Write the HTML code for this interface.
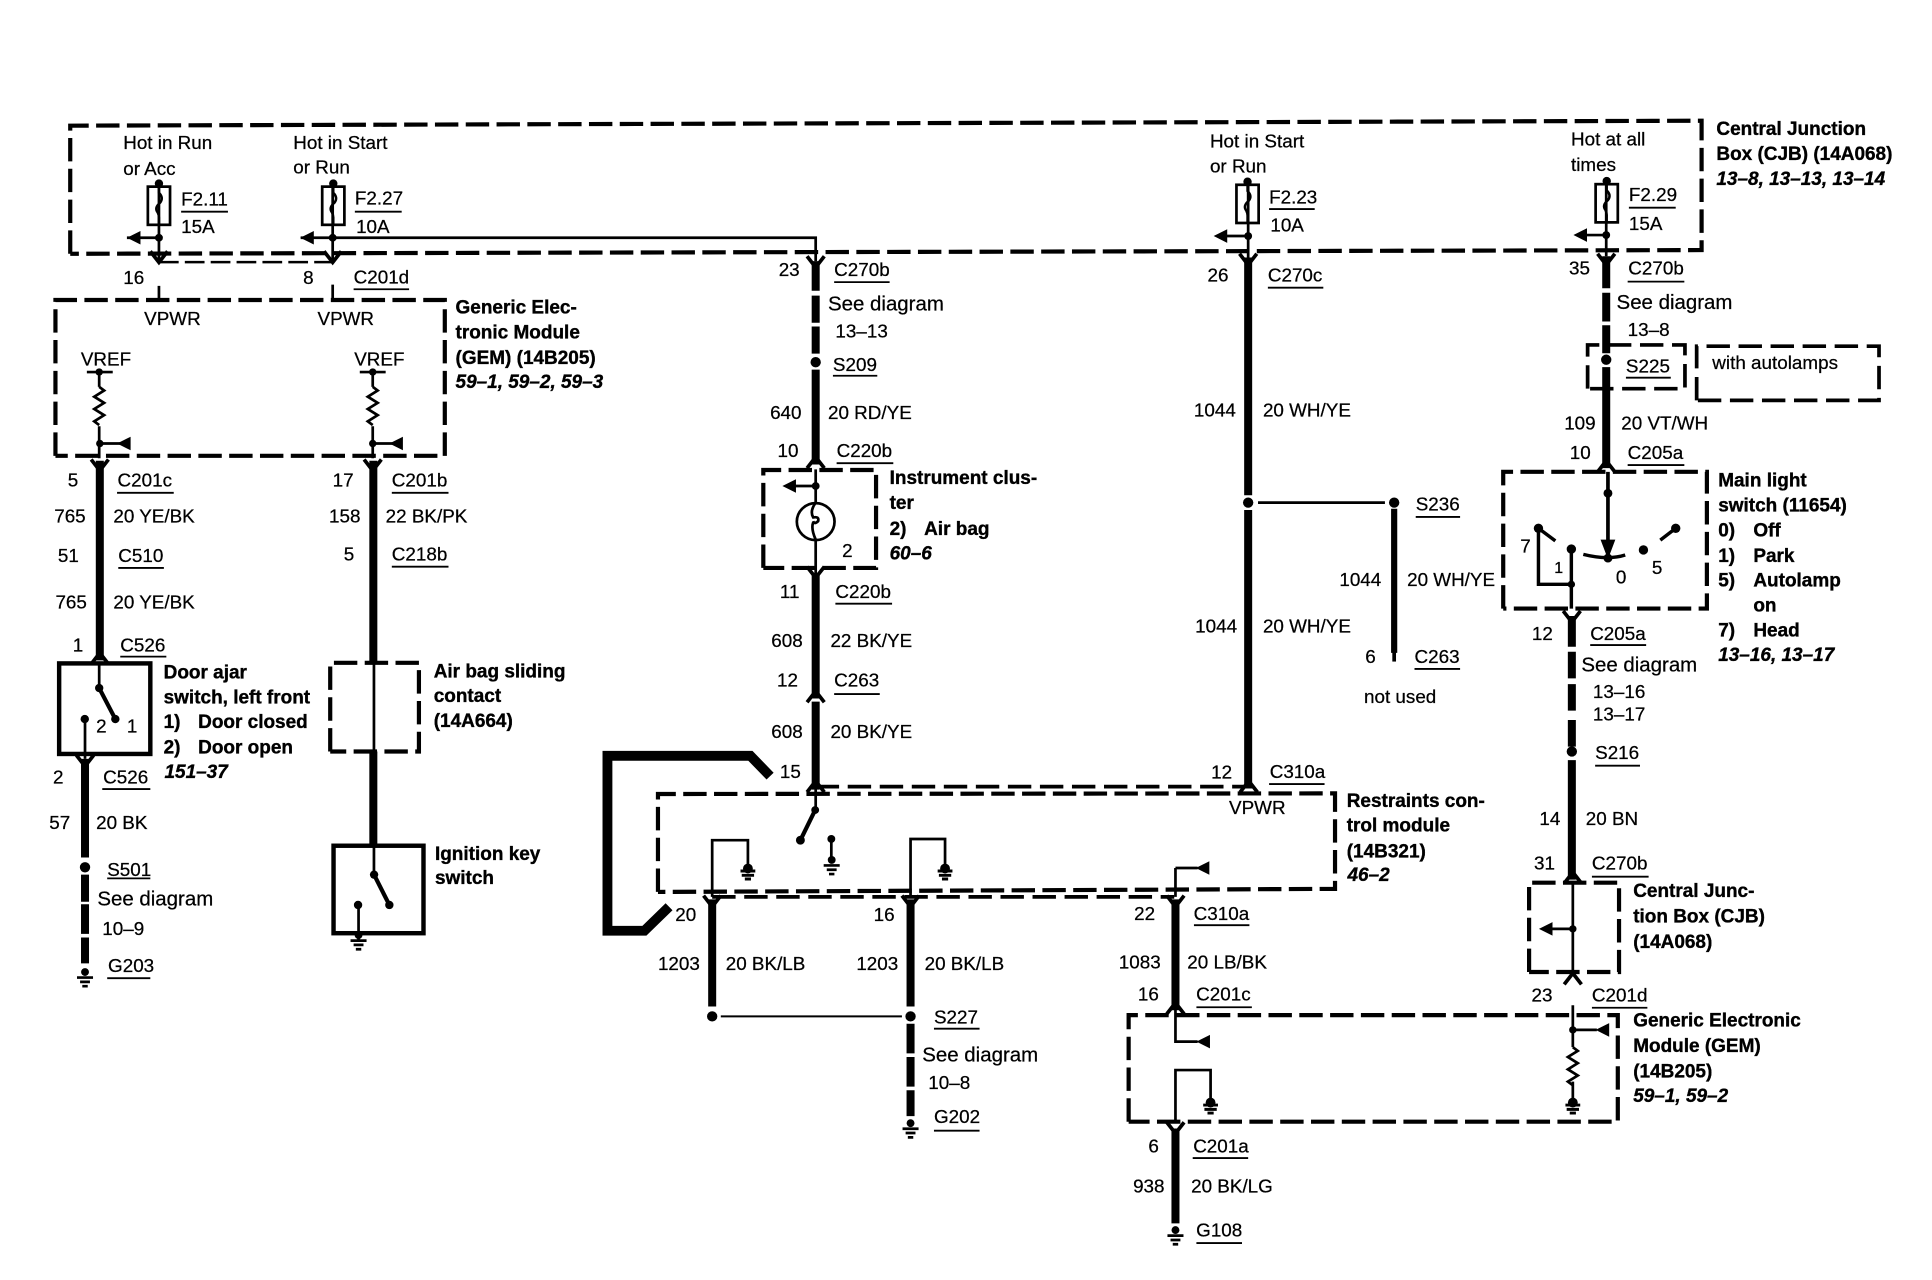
<!DOCTYPE html>
<html lang="en">
<head>
<meta charset="utf-8">
<title>Wiring diagram</title>
<style>
html,body{margin:0;padding:0;background:#fff;width:1932px;height:1280px;overflow:hidden}
svg{display:block}
text{font-family:"Liberation Sans",sans-serif;font-size:15.3px;fill:#000;stroke:#000;stroke-width:.2}
.b{font-weight:bold;font-size:15.4px;stroke-width:.3}
.i{font-weight:bold;font-style:italic;font-size:15.4px;stroke-width:.3}
.sd{font-size:16.6px}
.box{fill:none;stroke:#000;stroke-width:3.4;stroke-dasharray:19 6}
.box2{fill:none;stroke:#000;stroke-width:3;stroke-dasharray:19 7}
.th{fill:none;stroke:#000;stroke-width:6.5}
.tn{fill:none;stroke:#000;stroke-width:2.2}
.ul{fill:none;stroke:#000;stroke-width:1.5}
.sw{fill:none;stroke:#000;stroke-width:3.6}
</style>
</head>
<body>
<svg xmlns="http://www.w3.org/2000/svg" width="1932" height="1280" viewBox="0 0 1568 1039" preserveAspectRatio="none">
<defs>
<path id="dn" d="M-7,-6 L0,3 L7,-6" fill="none" stroke="#000" stroke-width="3"/>
<path id="up" d="M-7,6 L0,-3 L7,6" fill="none" stroke="#000" stroke-width="3"/>
<g id="gnd"><circle cx="0" cy="0" r="3.2"/><path d="M-6.5,4.5H6.5M-4,8H4M-2.2,11.5H2.2" stroke="#000" stroke-width="2.2" fill="none"/></g>
<g id="gnd2"><circle cx="0" cy="0" r="4"/><path d="M-6,2H6M-5,5.5H5M-2.5,8.5H2.5" stroke="#000" stroke-width="2.4" fill="none"/></g>
<path id="res" d="M0,0 l4,3 l-8,5 l8,5 l-8,5 l8,5 l-8,5 l4,3" fill="none" stroke="#000" stroke-width="2.2"/>
<path id="la" d="M0,0 L11,-5.5 V5.5Z"/>
<g id="fuse"><rect x="-9" y="0" width="18" height="31" fill="none" stroke="#000" stroke-width="2.2"/><path d="M0,-3 V5 q4,4 1,8 q-5,4 -2,8 q1,2 1,4 V31" fill="none" stroke="#000" stroke-width="2"/><circle cx="0" cy="-2.5" r="3.4"/></g>
</defs>

<!-- dashed module boxes -->
<path class="box" d="M57,206 V102 L1381,98 V203 L57,206"/>
<path class="box" d="M45,370 V243.5 H361 V370 H45"/>
<path class="box" d="M268,610 V538 H340 V610 H268"/>
<path class="box" d="M619.5,461 V381.5 H711 V461 H619.5"/>
<path class="box" d="M534,724 V644.5 L1083.5,644 V721.5 L534,724"/>
<path class="box" d="M916,910.5 V824 H1313 V910.5 H916"/>
<path class="box" d="M1241,789 V716.5 H1314 V789 H1241"/>
<path class="box" d="M1220,494 V383 H1385.3 V494 H1220"/>
<path class="box2" d="M1288.5,315.5 V280 H1367.5 V315.5 H1288.5"/>
<path class="box2" d="M1377,325 V281 H1525 V325 H1377"/>
<path class="box2" d="M662,638.5 H1013"/>
<path class="box2" d="M578,728 H953"/>
<path d="M129,212.8 H270" fill="none" stroke="#000" stroke-width="2" stroke-dasharray="16 5"/>

<!-- solid switch boxes -->
<rect x="48" y="538.5" width="74" height="73.5" class="sw"/>
<rect x="270.7" y="686.5" width="73" height="71" class="sw"/>

<!-- heavy black loop -->
<path d="M625,630 L609,613.5 H493 V755.5 H523 L543,736" fill="none" stroke="#000" stroke-width="8"/>

<!-- thick wires -->
<path class="th" d="M81,374V536 M303,374V538 M303,610V686 M69,616V696 M69,710V732 M69,734V758 M69,761V782
M662,212V236 M662,240V262 M662,265V287 M662,300V377 M662,465V567 M662,569.5V641
M578,730V817 M739,730V817 M739,831V855 M739,858V882 M739,885V906 M954,730V820 M954,916V993
M1013,209V402 M1013,414V640
M1303.6,208V234 M1303.6,237.6V261 M1303.6,264V286.7 M1303.6,298V380
M1275.7,500V525 M1275.7,529V550.6 M1275.7,555.3V576.8 M1275.7,584.4V606 M1275.7,617V714"/>
<path d="M1131.5,413V530" fill="none" stroke="#000" stroke-width="5"/>
<path d="M1131.5,528V537" fill="none" stroke="#000" stroke-width="3"/>

<!-- thin wires -->
<path class="tn" d="M129,151V211 M129,232V244 M103,193H129 M270,151V211 M270,231V244 M244,193H662V212
M80.5,302V314 M80.5,346V372 M81,360H100 M70.5,302H91.5
M302.5,302V314 M302.5,346V372 M302.5,360H322 M292,302H313
M80.5,538V558.5 M69,584V616 M303.5,538V610 M303.5,686V710 M291,735V763
M662,381V467 M645,394.5H662 M662,637V657.5 M674.7,681V698
M578,728V682H607V704 M739,728V681H767V704
M954,704.6V728 M954,704.6H972 M954,817V845.5H972 M954,910V868.6H982.5V894
M1013,151V209 M995,191.6H1013 M1303.6,148V208 M1287,190.8H1303.6
M1021,408H1124
M1276.5,716V792 M1259,754H1276.5 M1276.5,816V850 M1276.5,878V893 M1276.5,836H1296"/>
<path d="M585,825H732" fill="none" stroke="#000" stroke-width="1.7"/>
<path d="M1305,383V445" fill="none" stroke="#000" stroke-width="3"/>
<path d="M1248.6,428.8 L1262.3,439 M1285,450 Q1305,455 1319,450.5 M1347.5,438.4 L1360,428.8 M1248.6,428.8 V474.3 H1275.3 M1275.3,445.7 V494" fill="none" stroke="#000" stroke-width="2.8"/>
<path d="M1305,454 L1299,438 H1311Z"/>

<!-- switch levers -->
<path d="M80.5,558.5 L93.6,583.7 M303.6,710 L316,734.6 M661.6,657.5 L649.6,682" fill="none" stroke="#000" stroke-width="3.4"/>

<!-- resistors, fuses -->
<use href="#res" x="80.5" y="314"/>
<use href="#res" x="302.5" y="314"/>
<use href="#res" x="1276.5" y="850"/>
<use href="#fuse" x="129" y="151.5"/>
<use href="#fuse" x="270.5" y="151.5"/>
<use href="#fuse" x="1012.5" y="150"/>
<use href="#fuse" x="1304" y="149.5"/>

<!-- left pointing arrowheads -->
<use href="#la" x="103" y="193"/>
<use href="#la" x="243.7" y="193"/>
<use href="#la" x="985" y="191.6"/>
<use href="#la" x="1277" y="190.8"/>
<use href="#la" x="635" y="394.5"/>
<use href="#la" x="1249" y="754"/>
<use href="#la" x="95" y="360"/>
<use href="#la" x="316" y="360"/>
<use href="#la" x="970.5" y="704.6"/>
<use href="#la" x="971" y="845.5"/>
<use href="#la" x="1295" y="836"/>

<!-- chevrons -->
<use href="#dn" x="129" y="210"/><use href="#dn" x="270" y="210"/>
<use href="#dn" x="81" y="379"/><use href="#dn" x="302.5" y="379"/>
<use href="#up" x="81" y="533"/><use href="#dn" x="69" y="619"/>
<use href="#dn" x="662" y="214"/><use href="#up" x="662" y="374"/>
<use href="#dn" x="662" y="466"/><use href="#up" x="662" y="564"/>
<use href="#up" x="662" y="637"/><use href="#up" x="1013.5" y="637"/>
<use href="#dn" x="1013" y="212"/><use href="#dn" x="1303.6" y="212"/>
<use href="#up" x="1303.6" y="377"/><use href="#dn" x="1275.7" y="502"/>
<use href="#dn" x="578" y="733"/><use href="#dn" x="739" y="733"/><use href="#dn" x="954" y="733"/>
<use href="#up" x="954" y="817"/><use href="#dn" x="954" y="917"/>
<use href="#up" x="1276.5" y="711"/><use href="#up" x="1276.5" y="793"/>

<!-- dots -->
<g>
<circle cx="129" cy="193" r="3.2"/><circle cx="270" cy="193" r="3.2"/>
<circle cx="1013" cy="191.6" r="3.2"/><circle cx="1303.6" cy="190.8" r="3.2"/>
<circle cx="80.5" cy="302" r="3"/><circle cx="302.5" cy="302" r="3"/>
<circle cx="81" cy="360" r="3"/><circle cx="302.5" cy="360" r="3"/>
<circle cx="80.5" cy="558.5" r="3.4"/><circle cx="93.6" cy="583.7" r="3.4"/><circle cx="68.8" cy="583.7" r="3.4"/>
<circle cx="303.6" cy="710" r="3.4"/><circle cx="316" cy="734.6" r="3.4"/><circle cx="290.6" cy="734.6" r="3.4"/>
<circle cx="69" cy="704" r="4.2"/><circle cx="662" cy="294" r="4.2"/>
<circle cx="662" cy="394.5" r="3.2"/>
<circle cx="661.6" cy="657.5" r="3.2"/><circle cx="649.6" cy="682" r="3.6"/><circle cx="674.7" cy="681" r="3.2"/>
<circle cx="578" cy="825" r="4.2"/><circle cx="739" cy="825" r="4.2"/>
<circle cx="1013" cy="408" r="4.2"/><circle cx="1131.5" cy="408" r="4.2"/>
<circle cx="1303.6" cy="292" r="4.2"/><circle cx="1305" cy="400.4" r="3.6"/><circle cx="1305" cy="453" r="3.6"/>
<circle cx="1248.6" cy="428.8" r="3.8"/><circle cx="1275.3" cy="445.7" r="3.8"/><circle cx="1333.8" cy="446.4" r="3.8"/><circle cx="1360" cy="428.8" r="3.8"/><circle cx="1275.3" cy="474.3" r="3"/>
<circle cx="1275.7" cy="610" r="4.2"/>
<circle cx="1276.5" cy="754" r="3"/><circle cx="1276.5" cy="836" r="3"/>
</g>

<!-- grounds -->
<use href="#gnd" x="69" y="789"/>
<use href="#gnd" x="291" y="759"/>
<use href="#gnd" x="739" y="911.7"/>
<use href="#gnd" x="954" y="998.5"/>
<use href="#gnd2" x="607" y="705"/>
<use href="#gnd" x="675" y="698"/>
<use href="#gnd2" x="767" y="705"/>
<use href="#gnd2" x="982.5" y="895"/>
<use href="#gnd2" x="1276.5" y="895"/>

<!-- underlines -->
<path class="ul" d="M147,171.8H185 M288,171.8H326 M1030,169.7H1067 M1322,168.6H1360
M287,234.8H332 M677,229H722 M1029,233.5H1074 M1321,228.6H1367
M95,400H141 M318,400H364 M96,461H133 M318,460H364 M97.6,533H135 M83,640.5H122 M87,713H122 M87,794H122
M676,305H712 M679,376H725 M678,490H724 M677,563.4H714
M1149,419.6H1185 M1148,543H1185 M1319.6,306.6H1356 M1321,377.5H1367
M1030,636.4H1075 M969,751H1014 M971,817.6H1016 M968,940H1013 M971,1009H1008 M758,835H795 M758,917.8H795
M1290.6,523.6H1336 M1294.6,621.5H1331 M1292,711.6H1338 M1292,818H1337"/>

<!-- plain labels -->
<text x="100" y="121">Hot in Run</text>
<text x="100" y="142">or Acc</text>
<text x="238" y="121">Hot in Start</text>
<text x="238" y="141">or Run</text>
<text x="147" y="167">F2.11</text>
<text x="147" y="189">15A</text>
<text x="288" y="166">F2.27</text>
<text x="289" y="189">10A</text>
<text x="982" y="119.6">Hot in Start</text>
<text x="982" y="140">or Run</text>
<text x="1030" y="165">F2.23</text>
<text x="1031" y="188">10A</text>
<text x="1275" y="118">Hot at all</text>
<text x="1275" y="139">times</text>
<text x="1322" y="163">F2.29</text>
<text x="1322" y="186.7">15A</text>

<text x="100" y="230.5">16</text>
<text x="246" y="230.5">8</text>
<text x="287" y="230">C201d</text>
<text x="117" y="264">VPWR</text>
<text x="257.7" y="264">VPWR</text>
<text x="65.6" y="296.8">VREF</text>
<text x="287.5" y="296.8">VREF</text>
<text x="55" y="395">5</text>
<text x="95.4" y="395">C201c</text>
<text x="270" y="395">17</text>
<text x="318" y="395">C201b</text>
<text x="44" y="424">765</text>
<text x="92" y="424">20 YE/BK</text>
<text x="267" y="424">158</text>
<text x="313" y="424">22 BK/PK</text>
<text x="47" y="456">51</text>
<text x="96" y="456">C510</text>
<text x="279" y="455">5</text>
<text x="318" y="455">C218b</text>
<text x="45" y="494">765</text>
<text x="92" y="494">20 YE/BK</text>
<text x="59" y="529">1</text>
<text x="97.6" y="529">C526</text>
<text x="78" y="594.7">2</text>
<text x="103" y="594.7">1</text>
<text x="43" y="636">2</text>
<text x="83.7" y="636">C526</text>
<text x="40" y="673">57</text>
<text x="78" y="673">20 BK</text>
<text x="87" y="711">S501</text>
<text class="sd" x="79" y="735">See diagram</text>
<text x="83" y="759">10–9</text>
<text x="87.7" y="789">G203</text>

<text x="632" y="224">23</text>
<text x="677" y="224">C270b</text>
<text class="sd" x="672" y="252">See diagram</text>
<text x="678" y="274">13–13</text>
<text x="676" y="301">S209</text>
<text x="625" y="340">640</text>
<text x="672" y="340">20 RD/YE</text>
<text x="631" y="371">10</text>
<text x="679" y="371">C220b</text>
<text x="683.5" y="452">2</text>
<text x="633" y="485.6">11</text>
<text x="678" y="485.6">C220b</text>
<text x="626" y="525">608</text>
<text x="674" y="525">22 BK/YE</text>
<text x="630.6" y="557.4">12</text>
<text x="677" y="557.4">C263</text>
<text x="626" y="599">608</text>
<text x="674" y="599">20 BK/YE</text>
<text x="633" y="631.7">15</text>

<text x="980" y="228.6">26</text>
<text x="1029" y="228.6">C270c</text>
<text x="969" y="338">1044</text>
<text x="1025" y="338">20 WH/YE</text>
<text x="970" y="513.5">1044</text>
<text x="1025" y="513.5">20 WH/YE</text>
<text x="1149" y="414.5">S236</text>
<text x="1087" y="475.7">1044</text>
<text x="1142" y="475.7">20 WH/YE</text>
<text x="1108" y="538">6</text>
<text x="1148" y="538">C263</text>
<text x="1107" y="570.8">not used</text>
<text x="983" y="631.8">12</text>
<text x="1030.5" y="631.5">C310a</text>
<text x="997.5" y="660.7">VPWR</text>

<text x="1273.4" y="223">35</text>
<text x="1321.5" y="223">C270b</text>
<text class="sd" x="1312" y="251">See diagram</text>
<text x="1321" y="272.8">13–8</text>
<text x="1319.6" y="302.5">S225</text>
<text x="1389.7" y="299.7">with autolamps</text>
<text x="1269.5" y="348.5">109</text>
<text x="1315.8" y="348.5">20 VT/WH</text>
<text x="1274" y="372.6">10</text>
<text x="1321" y="372.6">C205a</text>
<text x="1233.8" y="448.6">7</text>
<text x="1261.4" y="465" style="font-size:13px">1</text>
<text x="1311.4" y="473.5">0</text>
<text x="1340.7" y="466">5</text>
<text x="1243.3" y="519.5">12</text>
<text x="1290.6" y="519.5">C205a</text>
<text class="sd" x="1283.4" y="545">See diagram</text>
<text x="1292.8" y="566.7">13–16</text>
<text x="1292.8" y="585">13–17</text>
<text x="1294.6" y="616">S216</text>
<text x="1249.4" y="669.7">14</text>
<text x="1287" y="669.7">20 BN</text>
<text x="1245" y="705.6">31</text>
<text x="1292" y="705.6">C270b</text>
<text x="1243" y="813">23</text>
<text x="1292" y="813">C201d</text>

<text x="548" y="747.6">20</text>
<text x="709" y="747.6">16</text>
<text x="920.5" y="746.7">22</text>
<text x="968.8" y="746.7">C310a</text>
<text x="534" y="787.3">1203</text>
<text x="589" y="787.3">20 BK/LB</text>
<text x="695" y="787.3">1203</text>
<text x="750.4" y="787.3">20 BK/LB</text>
<text x="908" y="786">1083</text>
<text x="963.6" y="786">20 LB/BK</text>
<text x="923.5" y="812.3">16</text>
<text x="970.8" y="812.3">C201c</text>
<text x="758" y="830.7">S227</text>
<text class="sd" x="748.5" y="861.7">See diagram</text>
<text x="753.4" y="884">10–8</text>
<text x="758" y="911.7">G202</text>
<text x="932" y="935.6">6</text>
<text x="968.4" y="935.6">C201a</text>
<text x="919.6" y="968">938</text>
<text x="966.7" y="968">20 BK/LG</text>
<text x="970.8" y="1003.8">G108</text>

<!-- bold descriptions -->
<text class="b" x="1393" y="109.6">Central Junction</text>
<text class="b" x="1393" y="130">Box (CJB) (14A068)</text>
<text class="i" x="1393" y="150">13–8, 13–13, 13–14</text>

<text class="b" x="369.7" y="254.5">Generic Elec-</text>
<text class="b" x="369.7" y="274.6">tronic Module</text>
<text class="b" x="369.7" y="295.6">(GEM) (14B205)</text>
<text class="i" x="369.7" y="315">59–1, 59–2, 59–3</text>

<text class="b" x="132.8" y="550.6">Door ajar</text>
<text class="b" x="132.8" y="571">switch, left front</text>
<text class="b" x="132.8" y="591">1)</text>
<text class="b" x="160.8" y="591">Door closed</text>
<text class="b" x="132.8" y="611.5">2)</text>
<text class="b" x="160.8" y="611.5">Door open</text>
<text class="i" x="133.5" y="631.7">151–37</text>

<text class="b" x="352" y="550">Air bag sliding</text>
<text class="b" x="352" y="570">contact</text>
<text class="b" x="352" y="590">(14A664)</text>
<text class="b" x="353" y="698">Ignition key</text>
<text class="b" x="353" y="717.6">switch</text>

<text class="b" x="722" y="393">Instrument clus-</text>
<text class="b" x="722" y="413">ter</text>
<text class="b" x="722" y="434.4">2)</text>
<text class="b" x="750" y="434.4">Air bag</text>
<text class="i" x="722" y="454">60–6</text>

<text class="b" x="1093" y="655">Restraints con-</text>
<text class="b" x="1093" y="675">trol module</text>
<text class="b" x="1093" y="696">(14B321)</text>
<text class="i" x="1093.6" y="715">46–2</text>

<text class="b" x="1394.5" y="395">Main light</text>
<text class="b" x="1394.5" y="415.4">switch (11654)</text>
<text class="b" x="1394.5" y="435.6">0)</text><text class="b" x="1423" y="435.6">Off</text>
<text class="b" x="1394.5" y="456">1)</text><text class="b" x="1423" y="456">Park</text>
<text class="b" x="1394.5" y="476.2">5)</text><text class="b" x="1423" y="476.2">Autolamp</text>
<text class="b" x="1423" y="496.5">on</text>
<text class="b" x="1394.5" y="516.8">7)</text><text class="b" x="1423" y="516.8">Head</text>
<text class="i" x="1394.5" y="536.6">13–16, 13–17</text>

<text class="b" x="1325.5" y="728.3">Central Junc-</text>
<text class="b" x="1325.5" y="749">tion Box (CJB)</text>
<text class="b" x="1325.5" y="769.6">(14A068)</text>
<text class="b" x="1325.5" y="833.3">Generic Electronic</text>
<text class="b" x="1325.5" y="854">Module (GEM)</text>
<text class="b" x="1325.5" y="874.5">(14B205)</text>
<text class="i" x="1325.5" y="894.7">59–1, 59–2</text>

<!-- instrument gauge -->
<ellipse cx="662" cy="423.4" rx="15.3" ry="15" fill="#fff" stroke="#000" stroke-width="2.2"/>
<path d="M662,408 q-5,7 -2,12 q5,-1 4,3 q-3,3 -4,0 M660,424 q-2,5 2,14" fill="none" stroke="#000" stroke-width="2.2"/>
</svg>
</body>
</html>
